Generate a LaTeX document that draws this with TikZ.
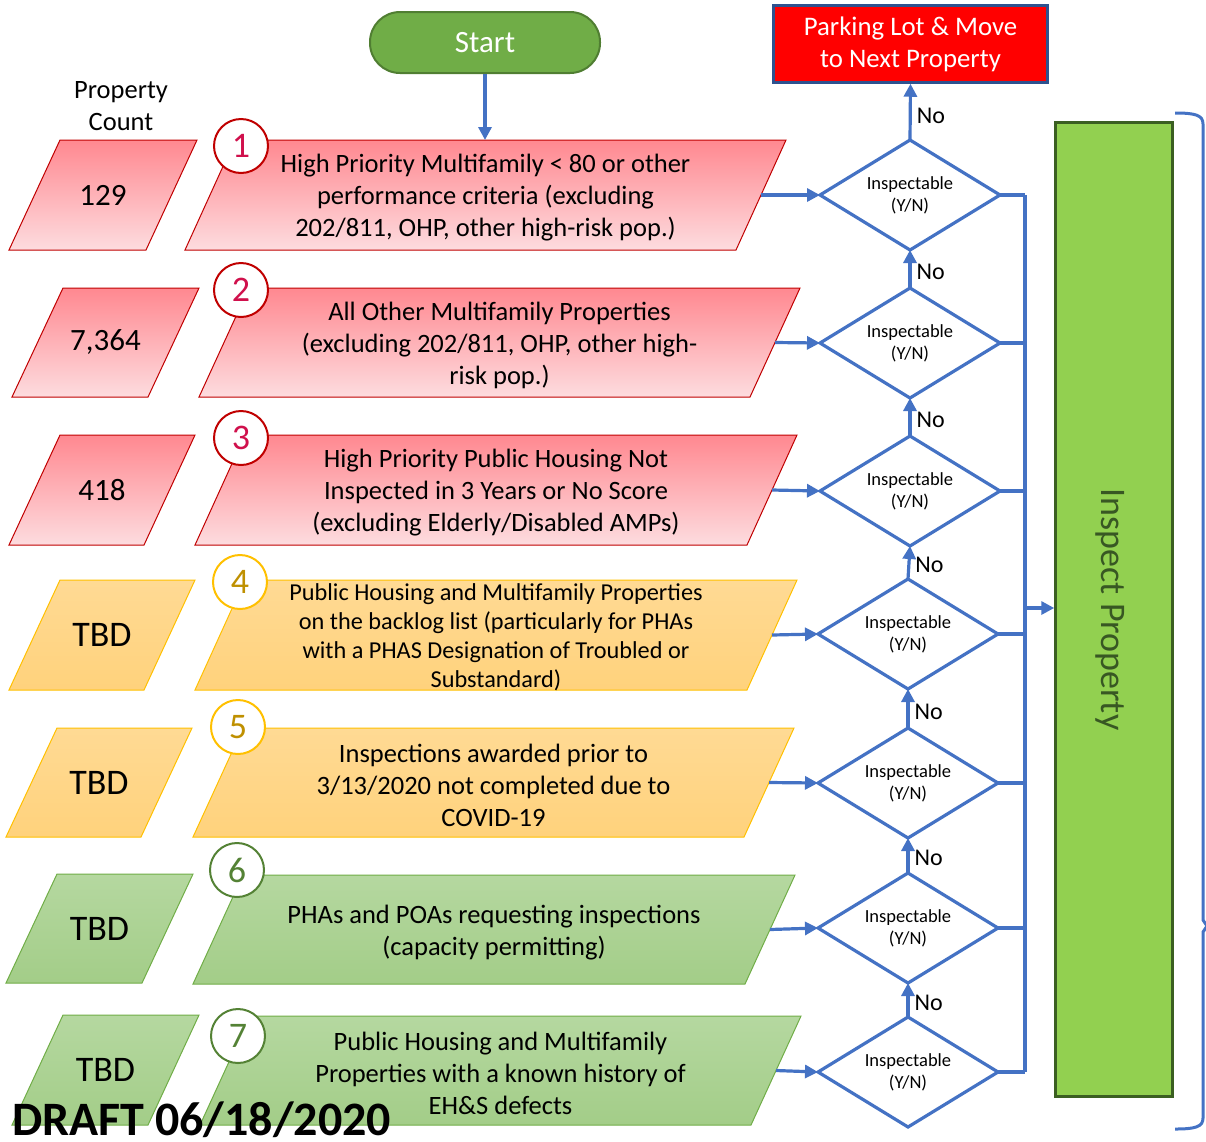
\documentclass[tikz,border=0pt]{standalone}
\usepackage{fontspec}
\setmainfont{Carlito}
\usetikzlibrary{shapes.geometric,arrows.meta,calc}
\definecolor{lineblue}{HTML}{4472C4}
\definecolor{redtop}{HTML}{FF8890}
\definecolor{redbot}{HTML}{FDDCDF}
\definecolor{redline}{HTML}{C00000}
\definecolor{rednum}{HTML}{D0104C}
\definecolor{yeltop}{HTML}{FFDA94}
\definecolor{yelbot}{HTML}{FFD27C}
\definecolor{yelline}{HTML}{FFC000}
\definecolor{yelnum}{HTML}{BF9000}
\definecolor{grntop}{HTML}{B5D8A0}
\definecolor{grnbot}{HTML}{A3CD88}
\definecolor{grnline}{HTML}{70AD47}
\definecolor{grnnum}{HTML}{548235}
\definecolor{startfill}{HTML}{70AD47}
\definecolor{startline}{HTML}{507E32}
\definecolor{inspfill}{HTML}{92D050}
\definecolor{inspline}{HTML}{3B5F22}
\definecolor{insptext}{HTML}{385723}
\definecolor{parkline}{HTML}{2F528F}
\newcommand\fsz[2]{\fontsize{#1}{#2}\selectfont}
% #1 name, #2 style, #3 top y, #4 bottom y, #5 top-left x, #6 top-right x, #7 slant
\newcommand\parashape[7]{%
  \path[#2] (#5,#3) coordinate (#1-tl) -- (#6,#3) coordinate (#1-tr)
    -- (#6-#7,#4) coordinate (#1-br) -- (#5-#7,#4) coordinate (#1-bl) -- cycle;
  \coordinate (#1-e) at ($(#1-tr)!0.5!(#1-br)$);
  \coordinate (#1-c) at ($(#1-tl)!0.5!(#1-br)$);
}
% diamond: #1 name, #2 position
\newcommand\inspdiamond[2]{%
  \node[diabox] (#1) at (#2) {Inspectable\\(Y/N)};
  \draw[diaedge] (#1.north) -- (#1.east) -- (#1.south) -- (#1.west) -- cycle;
}
\begin{document}
\begin{tikzpicture}[x=1pt,y=-1pt,
  redpar/.style={top color=redtop,bottom color=redbot,draw=redline,line width=1pt},
  yelpar/.style={top color=yeltop,bottom color=yelbot,draw=yelline,line width=1pt},
  grnpar/.style={top color=grntop,bottom color=grnbot,draw=grnline,line width=1pt},
  numcirc/.style={circle,minimum size=54pt,inner sep=0pt,fill=white,line width=2pt,font=\fsz{36}{36}},
  rednumc/.style={numcirc,draw=redline,text=rednum},
  yelnumc/.style={numcirc,draw=yelline,text=yelnum},
  grnnumc/.style={numcirc,draw=grnnum,text=grnnum},
  maintext/.style={align=center,font=\fsz{26.5}{32},yshift=-3pt},
  counttext/.style={font=\fsz{31}{31}},
  tbdtext/.style={font=\fsz{36}{36}},
  diabox/.style={rectangle,minimum width=180pt,minimum height=110pt,inner sep=0pt,outer sep=0pt,align=center,font=\fsz{18.5}{22}},
  diaedge/.style={draw=lineblue,line width=3.2pt,line join=miter},
  arr/.style={draw=lineblue,line width=3.2pt,-{Triangle[length=13pt,width=13pt]}},
  conn/.style={draw=lineblue,line width=3.2pt},
  nolab/.style={right,font=\fsz{24}{24},inner sep=5pt},
]
\useasboundingbox (0,0) rectangle (1206,1141);

% Start and Parking
\node[rounded corners=30pt,minimum width=230pt,minimum height=61pt,fill=startfill,draw=startline,line width=2pt,text=white,font=\fsz{31}{31}] (start) at (485,42.5) {Start};
\node[minimum width=274pt,minimum height=77pt,fill=red,draw=parkline,line width=2.5pt,text=white,align=center,font=\fsz{26.8}{32}] (park) at (910.5,44) {Parking Lot \& Move\\to Next Property};

\node[align=center,font=\fsz{26.5}{32}] (pc) at (121,106) {Property\\Count};

% Row 1
\parashape{c1}{redpar}{140}{250}{60}{197}{51}
\parashape{m1}{redpar}{140}{250}{235}{786}{50}
\node[counttext] (c1t) at (c1-c) {129};
\node[maintext] (m1t) at (m1-c) {High Priority Multifamily < 80 or other\\performance criteria (excluding\\202/811, OHP, other high-risk pop.)};
\node[rednumc] (n1) at (241,146) {1};
% Row 2
\parashape{c2}{redpar}{288}{397}{63}{199}{51}
\parashape{m2}{redpar}{288}{397}{249}{800}{50}
\node[counttext] (c2t) at (c2-c) {7,364};
\node[maintext] (m2t) at (m2-c) {All Other Multifamily Properties\\(excluding 202/811, OHP, other high-\\risk pop.)};
\node[rednumc] (n2) at (241,290) {2};
% Row 3
\parashape{c3}{redpar}{435}{545}{60}{195}{51}
\parashape{m3}{redpar}{435}{545}{245}{797}{50}
\node[counttext] (c3t) at (c3-c) {418};
\node[maintext] (m3t) at (m3-c) {High Priority Public Housing Not\\Inspected in 3 Years or No Score\\(excluding Elderly/Disabled AMPs)};
\node[rednumc] (n3) at (241,438) {3};
% Row 4
\parashape{c4}{yelpar}{580}{690}{60}{195}{51}
\parashape{m4}{yelpar}{580}{690}{245}{797}{50}
\node[tbdtext] (c4t) at (c4-c) {TBD};
\node[align=center,font=\fsz{24.3}{29},yshift=-2pt] (m4t) at (m4-c) {Public Housing and Multifamily Properties\\on the backlog list (particularly for PHAs\\with a PHAS Designation of Troubled or\\Substandard)};
\node[yelnumc] (n4) at (240,582) {4};
% Row 5
\parashape{c5}{yelpar}{728}{837}{57}{192}{51}
\parashape{m5}{yelpar}{728}{837}{243}{794}{50}
\node[tbdtext] (c5t) at (c5-c) {TBD};
\node[maintext] (m5t) at (m5-c) {Inspections awarded prior to\\3/13/2020 not completed due to\\COVID-19};
\node[yelnumc] (n5) at (238,727) {5};
% Row 6
\parashape{c6}{grnpar}{874}{983}{57}{193}{51}
\parashape{m6}{grnpar}{875}{984}{243}{795}{50}
\node[tbdtext] (c6t) at (c6-c) {TBD};
\node[maintext] (m6t) at (m6-c) {PHAs and POAs requesting inspections\\(capacity permitting)};
\node[grnnumc] (n6) at (237,870) {6};
% Row 7
\parashape{c7}{grnpar}{1015}{1125}{63}{199}{51}
\parashape{m7}{grnpar}{1016}{1125}{250}{801}{50}
\node[tbdtext] (c7t) at (c7-c) {TBD};
\node[maintext] (m7t) at (m7-c) {Public Housing and Multifamily\\Properties with a known history of\\EH\&S defects};
\node[grnnumc] (n7) at (238,1036) {7};

% Diamonds
\inspdiamond{d1}{910,195}
\inspdiamond{d2}{910,343}
\inspdiamond{d3}{910,491}
\inspdiamond{d4}{908,634}
\inspdiamond{d5}{908,783}
\inspdiamond{d6}{908,928}
\inspdiamond{d7}{908,1072}

% Inspect Property
\node[minimum width=117pt,minimum height=974pt,fill=inspfill,draw=inspline,line width=2.5pt,inner sep=0pt] (insp) at (1114,609.5) {};
\node[rotate=-90,text=insptext,font=\fsz{36}{36}] (insplabel) at ($(insp.center)+(-4,0)$) {Inspect Property};

% Connectors
\draw[arr] (start.south) -- (start.south |- m1-tl);
\foreach \i in {1,...,7} {\draw[arr] (m\i-e) -- (d\i.west);}
\draw[arr] (d1.north) -- (park.south) node[nolab,pos=0.42] {No};
\draw[arr] (d2.north) -- (d1.south) node[nolab,pos=0.42] {No};
\draw[arr] (d3.north) -- (d2.south) node[nolab,pos=0.42] {No};
\draw[arr] (d4.north) -- (d3.south) node[nolab,pos=0.42] {No};
\draw[arr] (d5.north) -- (d4.south) node[nolab,pos=0.42] {No};
\draw[arr] (d6.north) -- (d5.south) node[nolab,pos=0.42] {No};
\draw[arr] (d7.north) -- (d6.south) node[nolab,pos=0.42] {No};
\coordinate (bus) at (1025,608);
\foreach \i in {1,...,7} {\draw[conn] (d\i.east) -- (d\i.east -| bus);}
\draw[conn] (d1.east -| bus) -- (d7.east -| bus);
\draw[arr] (bus) -- (insp.west |- bus);

% Bracket
\coordinate (brtop) at (1175,113);
\coordinate (brbot) at (1175,1129);
\draw[lineblue,line width=3pt] (brtop) .. controls (1195,113) and (1203,115) .. (1203,124) -- (1203,920) -- (1207,926) -- (1203,932) -- (1203,1118) .. controls (1203,1127) and (1195,1129) .. (brbot);

% Draft label
\node[anchor=base west,font=\bfseries\fsz{48}{48},inner sep=0pt] (draft) at (12,1135) {DRAFT 06/18/2020};
\end{tikzpicture}
\end{document}
